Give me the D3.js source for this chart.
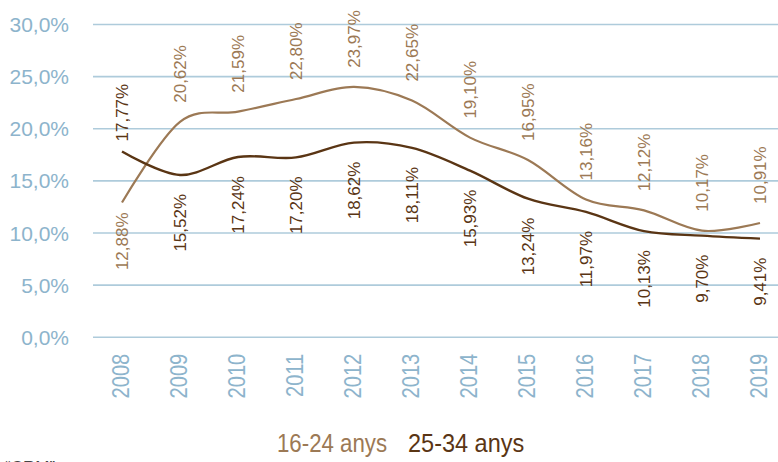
<!DOCTYPE html>
<html>
<head>
<meta charset="utf-8">
<script src="https://cdn.jsdelivr.net/npm/d3@7"></script>
<style>
  html, body { margin: 0; padding: 0; background: #ffffff; }
  svg { display: block; font-family: "Liberation Sans", Arial, sans-serif; }
</style>
</head>
<body>
<svg id="chart" width="778" height="462"></svg>
<script>
// ---- data ----
const years = ["2008","2009","2010","2011","2012","2013","2014","2015","2016","2017","2018","2019"];
const youth = [12.88, 20.62, 21.59, 22.80, 23.97, 22.65, 19.10, 16.95, 13.16, 12.12, 10.17, 10.91];
const adult = [17.77, 15.52, 17.24, 17.20, 18.62, 18.11, 15.93, 13.24, 11.97, 10.13, 9.70, 9.41];
const youthLabelSide = ["below","above","above","above","above","above","above","above","above","above","above","above"];
const adultLabelSide = ["above","below","below","below","below","below","below","below","below","below","below","below"];
const yTicks = [0, 5, 10, 15, 20, 25, 30];
const seriesNames = ["16-24 anys", "25-34 anys"];
const footnote = "“CRM”";

// ---- styles ----
const colYouth = "#9c7955";
const colAdult = "#5a3514";
const colGrid = "#aecbdb";
const colTick = "#8db4cc";

const svg = d3.select("#chart");

const x = d3.scaleBand().domain(years).range([93, 789]).padding(0);
const cx = d => x(d) + x.bandwidth() / 2;
const y = d3.scaleLinear().domain([0, 30]).range([336.7, 24]);

const loc = d3.formatLocale({decimal: ",", thousands: ".", grouping: [3], currency: ["", "€"]});
const fTick = loc.format(".1f");
const fVal = loc.format(".2f");

// grid lines + y tick labels via axis
const yAxis = d3.axisLeft(y).tickValues(yTicks).tickSize(-(778 - 93)).tickFormat(d => fTick(d) + "%");
const gy = svg.append("g").attr("transform", "translate(93,0)").call(yAxis);
gy.select(".domain").remove();
gy.selectAll(".tick line").attr("stroke", colGrid).attr("stroke-width", 1.6);
gy.selectAll(".tick text")
  .attr("x", -24)
  .attr("dy", "0.36em")
  .attr("fill", colTick)
  .style("font-size", "21px")
  .style("font-family", "'Liberation Sans', Arial, sans-serif");

// x axis labels (rotated, narrow)
const xAxis = d3.axisBottom(x).tickSize(0).tickFormat(d => d);
const gx = svg.append("g").attr("transform", "translate(0,336.7)").call(xAxis);
gx.select(".domain").remove();
gx.selectAll(".tick text")
  .attr("x", 0).attr("y", 0)
  .attr("dy", "0.35em")
  .attr("text-anchor", "end")
  .attr("transform", "translate(-1,17) rotate(-90) scale(0.84,1)")
  .attr("fill", colTick)
  .style("font-size", "24px")
  .style("font-family", "'Liberation Sans', Arial, sans-serif");

// lines
const line = d3.line()
  .x((d, i) => cx(years[i]))
  .y(d => y(d))
  .curve(d3.curveCatmullRom.alpha(0));

svg.append("path").datum(youth)
  .attr("d", line).attr("fill", "none")
  .attr("stroke", colYouth).attr("stroke-width", 2.2);
svg.append("path").datum(adult)
  .attr("d", line).attr("fill", "none")
  .attr("stroke", colAdult).attr("stroke-width", 2.4);

// data labels
function labels(values, sides, color) {
  svg.append("g").selectAll("text").data(values).join("text")
    .attr("transform", (d, i) => {
      const gap = i === 0 ? 10 : 19;
      const yy = sides[i] === "above" ? y(d) - gap : y(d) + gap;
      return `translate(${cx(years[i])},${yy}) rotate(-90)`;
    })
    .attr("text-anchor", (d, i) => sides[i] === "above" ? "start" : "end")
    .attr("dy", "0.35em")
    .attr("fill", color)
    .style("font-size", "17px")
    .text(d => fVal(d) + "%");
}
labels(youth, youthLabelSide, colYouth);
labels(adult, adultLabelSide, colAdult);

// legend
const lg = svg.append("g");
const legendColors = [colYouth, colAdult];
const legendX = [277, 408];
const legendScale = [0.89, 0.94];
seriesNames.forEach((n, i) => {
  lg.append("text")
    .attr("transform", `translate(${legendX[i]},452) scale(${legendScale[i]},1)`)
    .attr("fill", legendColors[i])
    .style("font-size", "25px")
    .text(n);
});

// cut-off footnote at the bottom edge (as in the reference)
svg.append("text")
  .attr("x", 5).attr("y", 473)
  .attr("fill", "#444")
  .style("font-size", "17px")
  .text(footnote);
</script>
</body>
</html>
